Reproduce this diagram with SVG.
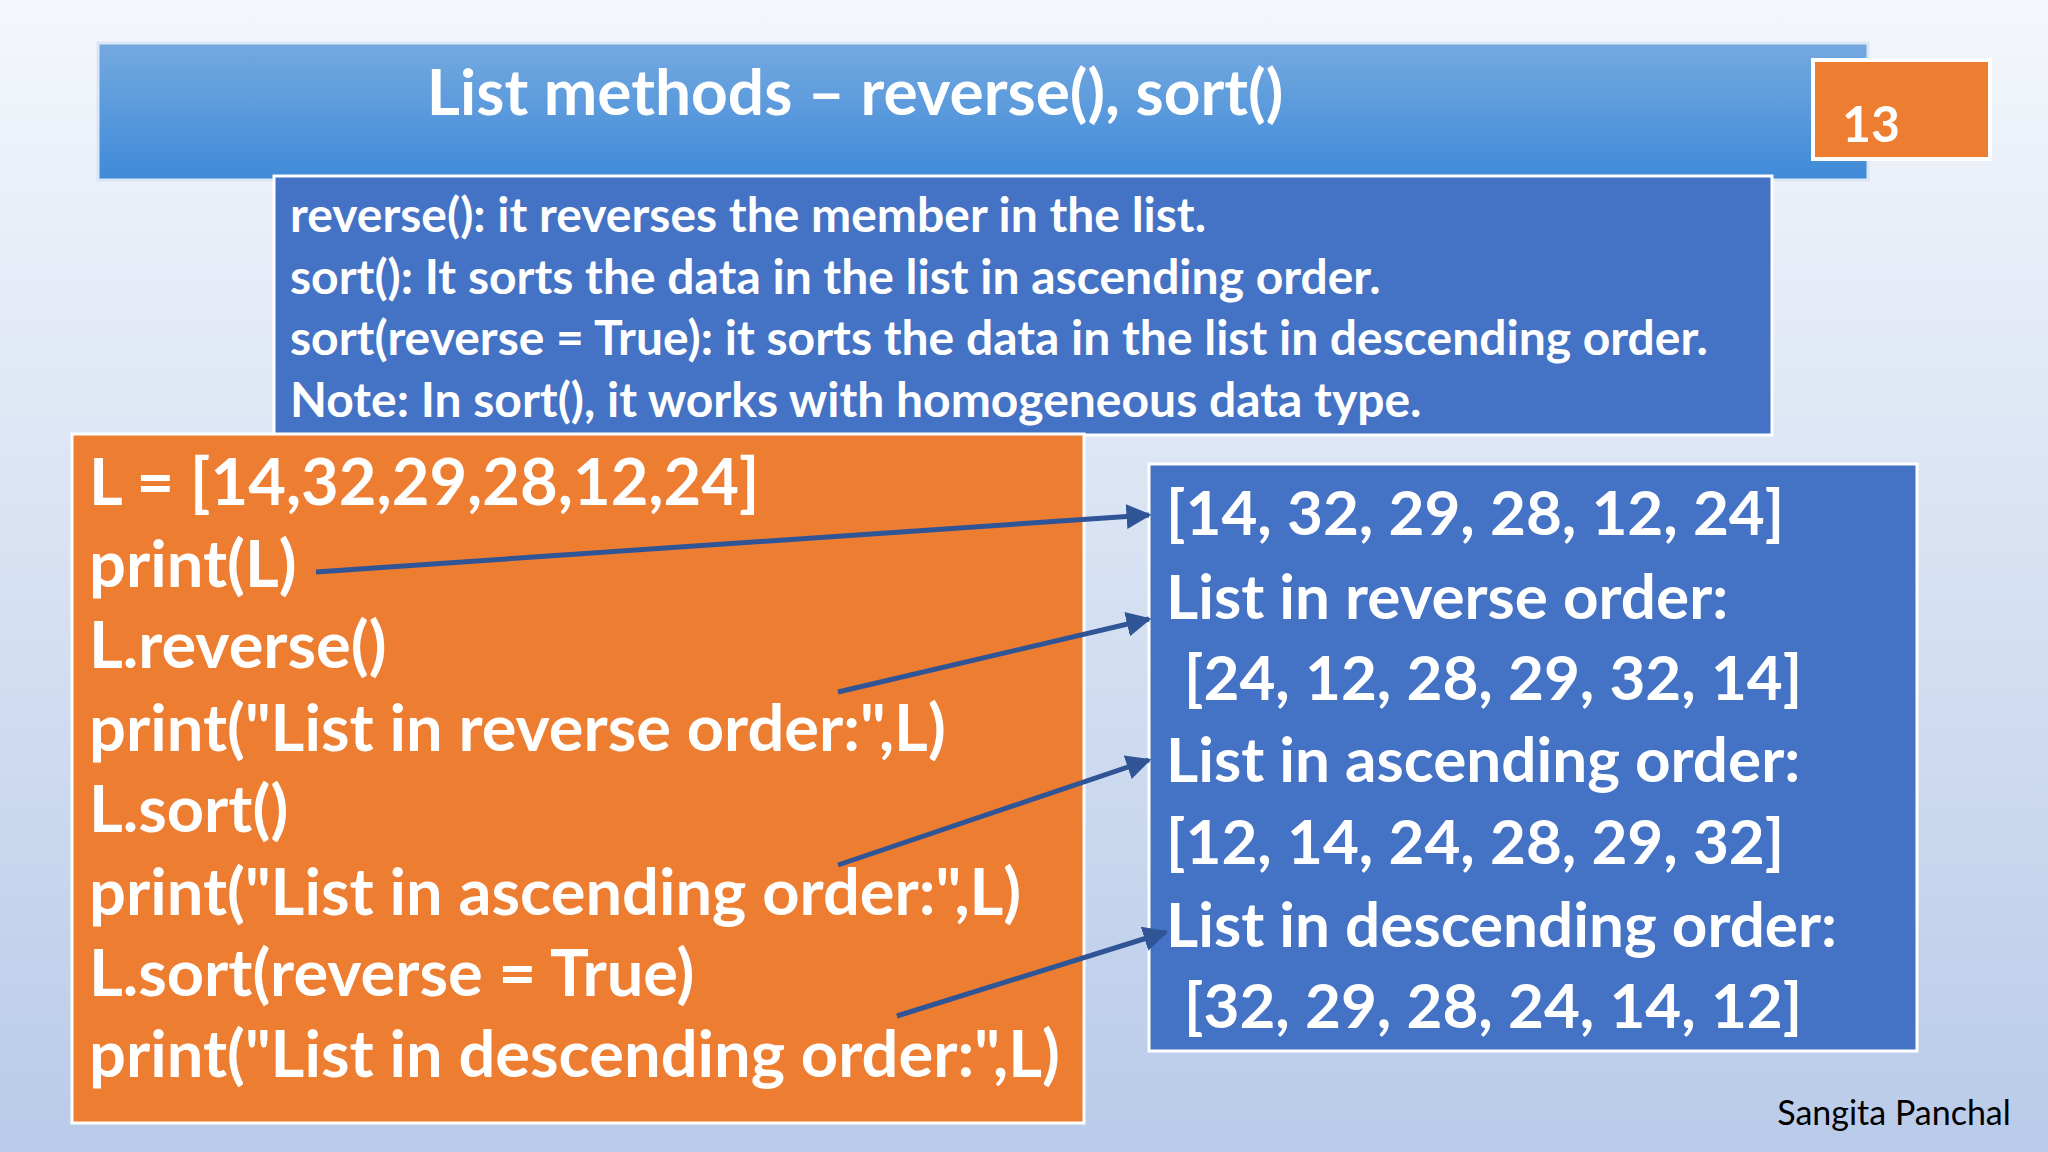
<svg xmlns="http://www.w3.org/2000/svg" width="2048" height="1152" viewBox="0 0 2048 1152">
<defs>
<linearGradient id="bg" x1="0" y1="0" x2="0" y2="1"><stop offset="0" stop-color="#f4f7fc"/><stop offset="1" stop-color="#b9cbe9"/></linearGradient>
<linearGradient id="tb" x1="0" y1="0" x2="0" y2="1"><stop offset="0" stop-color="#74a9df"/><stop offset="1" stop-color="#3f8ad9"/></linearGradient>
<marker id="ah" viewBox="0 0 10 10" refX="9" refY="5" markerWidth="5" markerHeight="5" orient="auto"><path d="M0,0L10,5L0,10z" fill="#2f5597"/></marker>
</defs>
<style>
text{font-family:Lato,"Open Sans",sans-serif;font-weight:bold;fill:#fff}
.d{font-size:48px}.c{font-size:65px}.r{font-size:62px}
.a{stroke:#2f5597;stroke-width:5;fill:none;marker-end:url(#ah)}
</style>
<rect width="2048" height="1152" fill="url(#bg)"/>
<g id="title"><rect x="98" y="43" width="1770" height="137" fill="url(#tb)" stroke="#dbe6f5" stroke-width="3"/>
<text x="855" y="115" text-anchor="middle" font-size="64">List methods – reverse(), sort()</text></g>
<g id="page"><rect x="1813" y="60" width="177" height="99" fill="#ed7d31" stroke="#fff" stroke-width="4"/>
<text x="1842" y="142" font-size="50" font-weight="normal">13</text></g>
<g id="desc"><rect x="274" y="176" width="1498" height="259" fill="#4472c4" stroke="#fff" stroke-width="3"/>
<text class="d" x="290" y="232">reverse(): it reverses the member in the list.</text>
<text class="d" x="290" y="294">sort(): It sorts the data in the list in ascending order.</text>
<text class="d" x="290" y="355">sort(reverse = True): it sorts the data in the list in descending order.</text>
<text class="d" x="290" y="417">Note: In sort(), it works with homogeneous data type.</text></g>
<g id="code"><rect x="72" y="434" width="1012" height="689" fill="#ed7d31" stroke="#fff" stroke-width="3"/>
<text class="c" x="89" y="505">L = [14,32,29,28,12,24]</text>
<text class="c" x="89" y="587">print(L)</text>
<text class="c" x="89" y="668">L.reverse()</text>
<text class="c" x="89" y="751">print("List in reverse order:",L)</text>
<text class="c" x="89" y="832">L.sort()</text>
<text class="c" x="89" y="915">print("List in ascending order:",L)</text>
<text class="c" x="89" y="996">L.sort(reverse = True)</text>
<text class="c" x="89" y="1077">print("List in descending order:",L)</text></g>
<g id="output"><rect x="1149" y="464" width="768" height="587" fill="#4472c4" stroke="#fff" stroke-width="3"/>
<text class="r" x="1166" y="535">[14, 32, 29, 28, 12, 24]</text>
<text class="r" x="1166" y="619">List in reverse order:</text>
<text class="r" x="1184" y="700">[24, 12, 28, 29, 32, 14]</text>
<text class="r" x="1166" y="782">List in ascending order:</text>
<text class="r" x="1166" y="864">[12, 14, 24, 28, 29, 32]</text>
<text class="r" x="1166" y="947">List in descending order:</text>
<text class="r" x="1184" y="1028">[32, 29, 28, 24, 14, 12]</text></g>
<g id="connectors">
<line class="a" x1="316" y1="572" x2="1149" y2="515"/>
<line class="a" x1="838" y1="692" x2="1149" y2="619"/>
<line class="a" x1="838" y1="865" x2="1149" y2="760"/>
<line class="a" x1="897" y1="1016" x2="1166" y2="932" stroke-width="8"/>
</g>
<text x="1894" y="1125" text-anchor="middle" font-size="34" style="fill:#000;font-weight:normal">Sangita Panchal</text>
</svg>
